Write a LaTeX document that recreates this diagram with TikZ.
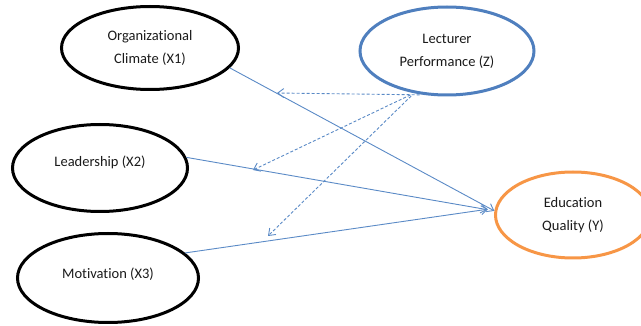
\documentclass[tikz,border=0pt]{standalone}
\usepackage{fontspec}
\setmainfont{Carlito}[Ligatures=NoCommon]
\usetikzlibrary{shapes.geometric,arrows.meta}
\definecolor{linkblue}{HTML}{5A8AC6}
\definecolor{zblue}{HTML}{4F7FBE}
\definecolor{yorange}{HTML}{F79646}
\definecolor{txt}{HTML}{1A1A1A}
\tikzset{
  var/.style={ellipse, draw=black, line width=3pt, inner sep=0pt, align=center,
    text=txt, font=\fontsize{14.5}{23}\selectfont},
  path/.style={draw=linkblue, line width=0.9pt, -{Straight Barb[length=6pt,width=9pt]}},
  dpath/.style={draw=linkblue, line width=0.9pt, dash pattern=on 3pt off 2pt,
    -{Straight Barb[length=6pt,width=9pt]}}
}
\begin{document}
\begin{tikzpicture}[x=1pt,y=-1pt]
\useasboundingbox (0,0) rectangle (641,326);
\clip (0,0) rectangle (641,326);
\node[var, minimum width=177pt, minimum height=83pt] (x1) at (150,48) {Organizational\\Climate (X1)};
\node[var, minimum width=175pt, minimum height=87pt, text depth=13pt] (x2) at (100,168) {Leadership (X2)};
\node[var, minimum width=181pt, minimum height=89pt, text depth=9pt] (x3) at (108,278) {Motivation (X3)};
\node[var, draw=zblue, minimum width=174pt, minimum height=88pt] (z) at (447,51) {Lecturer\\Performance (Z)};
\node[var, draw=yorange, minimum width=155pt, minimum height=86pt] (y) at (573,215) {Education\\Quality (Y)};
\coordinate (d1) at (277,93);
\coordinate (d2) at (253,170);
\coordinate (d3) at (268,236);
\draw[path] (x1.-14) -- (y.177);
\draw[path, shorten >=7pt] (x2.7) -- (y.177);
\draw[path, shorten >=7pt] (x3.18) -- (y.175);
\draw[dpath, shorten <=4pt] (z.-118) -- (d1);
\draw[dpath, shorten <=4pt] (z.-128) -- (d2);
\draw[dpath, shorten <=4pt] (z.-128) -- (d3);
\end{tikzpicture}
\end{document}
